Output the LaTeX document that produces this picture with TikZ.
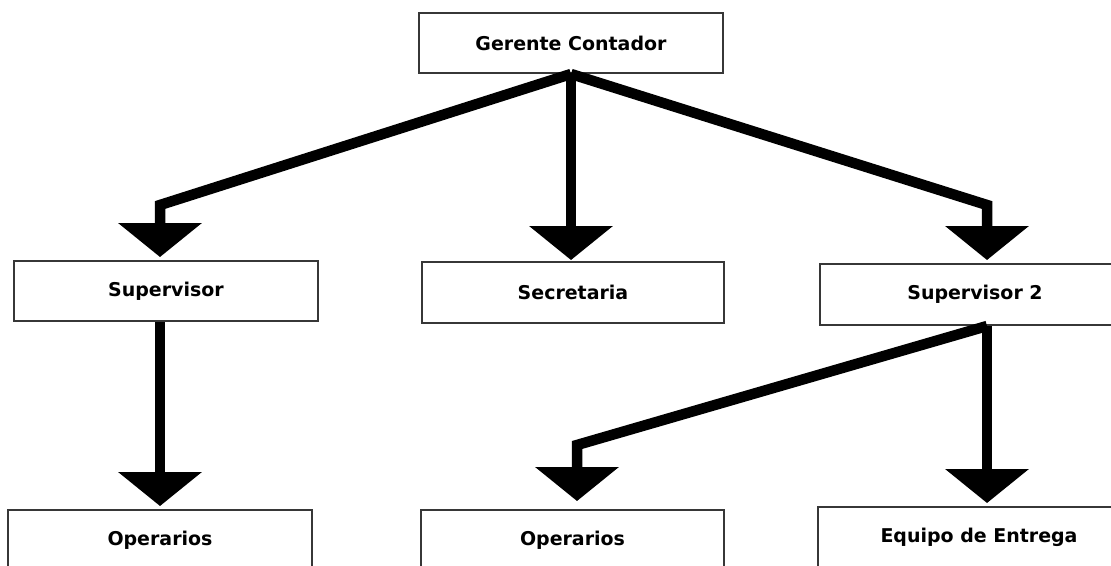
\documentclass[tikz,border=0pt]{standalone}
\usepackage{fontspec}
\setmainfont{DejaVu Sans}
\usetikzlibrary{arrows.meta}
\definecolor{marco}{RGB}{55,55,55}
\tikzset{
  puesto/.style={draw=marco,line width=0.04cm,minimum height=1.2cm,inner sep=0pt,
    font=\fontsize{10.8}{13}\selectfont\bfseries},
  flecha/.style={line width=0.21cm,shorten >=0.06cm,
    -{Triangle[length=0.68cm,width=1.64cm]}}
}

\begin{document}
\begin{tikzpicture}[x=0.02cm,y=-0.02cm]
  \useasboundingbox (0,0) rectangle (1111,565);
  \clip (0,0) rectangle (1111,565);
  % puestos
  \node[puesto,minimum width=6.08cm] (ger) at (571,43) {Gerente Contador};
  \node[puesto,minimum width=6.08cm] (sup) at (166,291) {Supervisor};
  \node[puesto,minimum width=6.04cm,minimum height=1.22cm] (sec) at (573,292.5) {Secretaria};
  \node[puesto,minimum width=6.2cm,minimum height=1.22cm] (supb) at (975,294.5) {Supervisor 2};
  \node[puesto,minimum width=6.08cm] (opa) at (160,540) {Operarios};
  \node[puesto,minimum width=6.06cm] (opb) at (572.5,540) {Operarios};
  \node[puesto,minimum width=6.44cm] (equ) at (979,537) {Equipo de Entrega};
  % quiebres
  \coordinate (q1) at (160,205);
  \coordinate (q2) at (987,205);
  \coordinate (q3) at (577,445);
  % conectores
  \draw[flecha] (ger.south) -- (q1) -- (q1 |- sup.north);
  \draw[flecha,shorten >=0.02cm] (ger.south) -- (ger.south |- sec.north);
  \draw[flecha] (ger.south) -- (q2) -- (q2 |- supb.north);
  \draw[flecha] (q1 |- sup.south) -- (q1 |- opa.north);
  \draw[flecha,shorten >=0.16cm] (q2 |- supb.south) -- (q3) -- (q3 |- opb.north);
  \draw[flecha] (q2 |- supb.south) -- (q2 |- equ.north);
\end{tikzpicture}
\end{document}
